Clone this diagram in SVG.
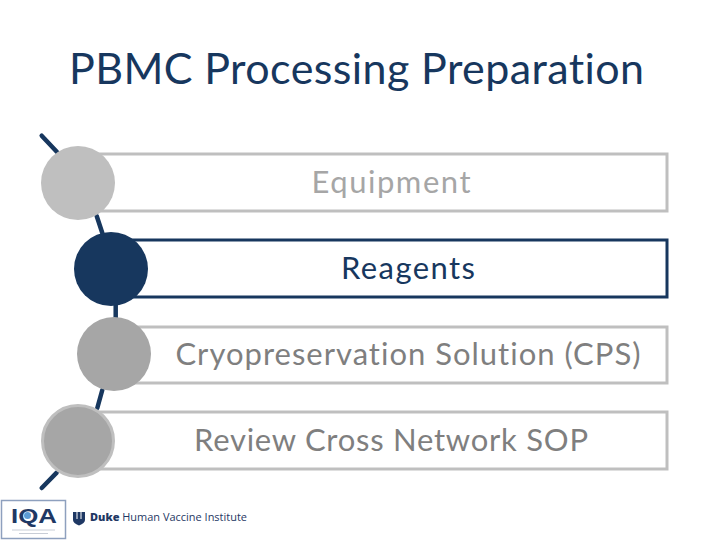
<svg xmlns="http://www.w3.org/2000/svg" width="720" height="540" viewBox="0 0 720 540">
<style>
text{font-family:"Lato","Liberation Sans",sans-serif;font-variant-ligatures:none}
.box{fill:#fff;stroke-width:3;stroke:#BFBFBF}
.lbl{font-size:31px;text-anchor:middle;fill:#7F7F7F}
.con{stroke:#17375E;stroke-width:4.500;fill:none;stroke-linecap:round}
.logo{font-family:"Open Sans","Liberation Sans",sans-serif}
</style>
<rect width="720" height="540" fill="#fff"/>
<text id="title" x="69" y="84" font-size="43" fill="#17375E" textLength="575" lengthAdjust="spacing">PBMC Processing Preparation</text>
<g id="connectors">
<path class="con" d="M41.700 135.700L57 152"/>
<path class="con" d="M96.700 216L102.300 233"/>
<path class="con" d="M115.700 305V318"/>
<path class="con" d="M102.300 390L97.300 408"/>
<path class="con" d="M56.700 472.700L41.700 488"/>
</g>
<g id="node-equipment">
<rect class="box" x="78" y="154" width="589" height="57"/>
<circle cx="78" cy="183" r="37" fill="#BFBFBF"/>
<text class="lbl" x="391" y="193" textLength="159" lengthAdjust="spacing" style="fill:#A6A6A6">Equipment</text>
</g>
<g id="node-reagents">
<rect class="box" x="111" y="240" width="556" height="57" style="stroke:#17375E"/>
<circle cx="111" cy="269" r="37" fill="#17375E"/>
<text class="lbl" x="408" y="279" textLength="134" lengthAdjust="spacing" style="fill:#17375E">Reagents</text>
</g>
<g id="node-cps">
<rect class="box" x="114" y="327" width="553" height="56"/>
<circle cx="114" cy="354" r="37" fill="#A6A6A6"/>
<text class="lbl" x="408" y="365" textLength="465" lengthAdjust="spacing">Cryopreservation Solution (CPS)</text>
</g>
<g id="node-review">
<rect class="box" x="78" y="412" width="589" height="57"/>
<circle cx="78" cy="441" r="35.500" fill="#A6A6A6" stroke="#BFBFBF" stroke-width="3"/>
<text class="lbl" x="391" y="451" textLength="394" lengthAdjust="spacing">Review Cross Network SOP</text>
</g>
<g id="logos">
<rect x="1.500" y="500.500" width="64" height="38" fill="#fff" stroke="#8EA0BE" stroke-width="1.500"/>
<text x="34" y="523" font-size="21" font-weight="900" fill="#1F3864" text-anchor="middle" textLength="46" lengthAdjust="spacingAndGlyphs" style="font-family:'Liberation Sans',sans-serif">IQA</text>
<circle cx="27.500" cy="515.500" r="3.500" fill="#5B9BD5"/>
<path d="M12 530H55M19 533.500H48" stroke="#C8CDD6" stroke-width="1" fill="none"/>
<path d="M73 512H85V520Q85 523 79 525.500Q73 523 73 520Z" fill="#1F3864"/>
<path d="M77 512V519M81 512V519" stroke="#fff" stroke-width="1" fill="none"/>
<text class="logo" x="90" y="520.500" font-size="11" fill="#1F3864" textLength="157" lengthAdjust="spacingAndGlyphs"><tspan font-weight="800">Duke</tspan> Human Vaccine Institute</text>
</g>
</svg>
